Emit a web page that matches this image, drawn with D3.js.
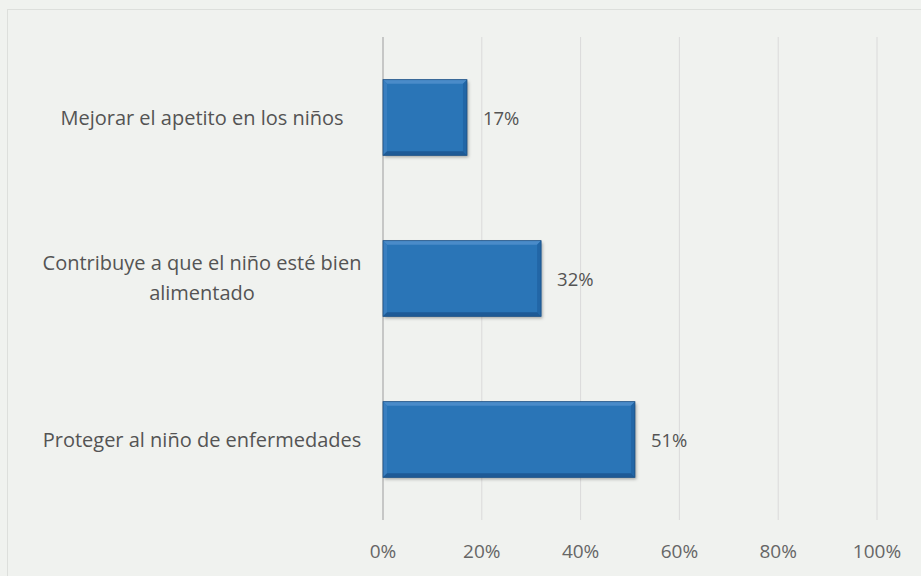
<!doctype html>
<html lang="es">
<head>
<meta charset="UTF-8">
<title>Chart</title>
<script src="https://d3js.org/d3.v7.min.js"></script>
<style>
  html, body { margin: 0; padding: 0; background: #f0f2ef; }
  svg { display: block; }
  text { font-family: "Open Sans", sans-serif; fill: #545454; }
</style>
</head>
<body>
<svg id="chart"></svg>
<script>
const categories = [
  ["Mejorar el apetito en los niños"],
  ["Contribuye a que el niño esté bien", "alimentado"],
  ["Proteger al niño de enfermedades"]
];
const values = [0.17, 0.32, 0.51];
const ticks = [0, 0.2, 0.4, 0.6, 0.8, 1.0];

const width = 921, height = 576;
const svg = d3.select('#chart').attr('width', width).attr('height', height);

// faint frame
svg.append('rect')
   .attr('x', 7.5).attr('y', 9.5)
   .attr('width', width - 4).attr('height', height)
   .attr('fill', 'none').attr('stroke', '#dddfdc');

const x = d3.scaleLinear().domain([0, 1]).range([383, 877]);
const y = d3.scaleBand().domain(d3.range(categories.length))
            .range([37, 520]).paddingInner(0.53).paddingOuter(0.265);

// gridlines
svg.append('g').selectAll('line').data(ticks.slice(1)).enter()
   .append('line')
   .attr('x1', d => x(d)).attr('x2', d => x(d))
   .attr('y1', 37).attr('y2', 520)
   .attr('stroke', '#dadada').attr('stroke-width', 1);

// axis line
svg.append('line')
   .attr('x1', x(0)).attr('x2', x(0)).attr('y1', 37).attr('y2', 520)
   .attr('stroke', '#b8b8b8').attr('stroke-width', 1.5);

// tick labels
svg.append('g').selectAll('text').data(ticks).enter()
   .append('text')
   .attr('x', d => x(d)).attr('y', 558)
   .attr('text-anchor', 'middle')
   .style('font-size', '19px').style('fill', '#666')
   .text(d3.format('.0%'));

const defs = svg.append('defs');
const shadow = defs.append('filter').attr('id', 'shadow')
   .attr('x', '-10%').attr('y', '-10%').attr('width', '130%').attr('height', '130%');
shadow.append('feDropShadow').attr('dx', 1.5).attr('dy', 2).attr('stdDeviation', 1.5)
   .attr('flood-color', '#000').attr('flood-opacity', 0.3);

const bars = svg.append('g').selectAll('g').data(values).enter().append('g');
const bw = 4; // bevel width

bars.append('rect')
    .attr('x', x(0)).attr('y', (d, i) => y(i))
    .attr('width', d => x(d) - x(0)).attr('height', y.bandwidth())
    .attr('fill', '#2b74b7').attr('filter', 'url(#shadow)');

// bevel edges
function edge(d, i, side) {
  const x0 = x(0), x1 = x(d), y0 = y(i), y1 = y(i) + y.bandwidth();
  if (side === 'top') return [[x0, y0], [x1, y0], [x1 - bw, y0 + bw], [x0 + bw, y0 + bw]];
  if (side === 'bottom') return [[x0, y1], [x1, y1], [x1 - bw, y1 - bw], [x0 + bw, y1 - bw]];
  if (side === 'left') return [[x0, y0], [x0 + bw, y0 + bw], [x0 + bw, y1 - bw], [x0, y1]];
  return [[x1, y0], [x1 - bw, y0 + bw], [x1 - bw, y1 - bw], [x1, y1]];
}
const edgeFill = { top: '#4a8bc9', left: '#3a7fc0', right: '#2266a6', bottom: '#1e5a96' };
['top', 'left', 'right', 'bottom'].forEach(side => {
  bars.append('polygon')
      .attr('points', (d, i) => edge(d, i, side).map(p => p.join(',')).join(' '))
      .attr('fill', edgeFill[side]);
});
bars.append('rect')
    .attr('x', x(0)).attr('y', (d, i) => y(i))
    .attr('width', d => x(d) - x(0)).attr('height', y.bandwidth())
    .attr('fill', 'none').attr('stroke', '#1d4f82').attr('stroke-width', 0.8);

// value labels
svg.append('g').selectAll('text').data(values).enter()
   .append('text')
   .attr('x', d => x(d) + 16).attr('y', (d, i) => y(i) + y.bandwidth() / 2 + 7)
   .style('font-size', '18.5px')
   .text(d3.format('.0%'));

// category labels
const cat = svg.append('g').selectAll('text').data(categories).enter()
   .append('text')
   .attr('text-anchor', 'middle')
   .style('font-size', '20px')
   .attr('y', (d, i) => y(i) + y.bandwidth() / 2 + 7 - (d.length - 1) * 16);
cat.selectAll('tspan').data(d => d).enter()
   .append('tspan')
   .attr('x', 202)
   .attr('dy', (d, j) => j === 0 ? 0 : 30)
   .text(d => d);
</script>
</body>
</html>
